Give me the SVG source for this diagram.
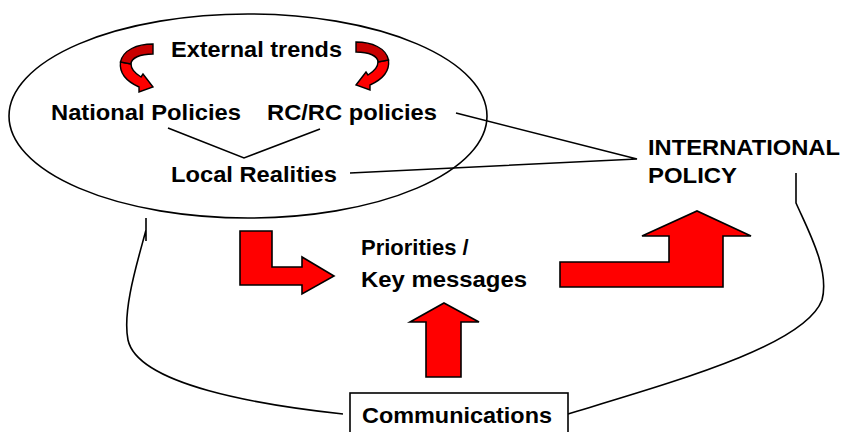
<svg xmlns="http://www.w3.org/2000/svg" width="842" height="432" viewBox="0 0 842 432">
<style>
text{font-family:"Liberation Sans",Arial,sans-serif;font-weight:bold;font-size:22px;fill:#000}
.ln{fill:none;stroke:#000;stroke-width:1.6}
.arr{fill:#ff0000;stroke:#000;stroke-width:1.6;stroke-linejoin:miter}
.dk{fill:#c80000;stroke:#000;stroke-width:1.4}
.br{fill:#ff0000;stroke:#000;stroke-width:1.4}
</style>
<defs>
<g id="curl">
<path class="br" d="M120.5,62 C119,74 128,82 139,87 L139,92 L153,87 L143,74 L141,77 C136,74 131,70 131,64 Z"/>
<path class="dk" d="M153,44 L153,54 C140,54 131,58 131,64 L120.5,62 C123,50 137,44 153,44 Z"/>
</g>
</defs>
<rect width="842" height="432" fill="#fff"/>
<g id="connectors">
<path class="ln" d="M168,128 L244,158 L320,129"/>
<path class="ln" d="M456,113 L637,159 L350,173"/>
<path class="ln" d="M146,218 L146,241 M146,230 C138,260 122,310 128,340 C138,385 260,405 343,414"/>
<path class="ln" d="M796,173 L796,203 C808,230 830,270 822,300 C805,345 680,380 568,414"/>
</g>
<g id="ellipse">
<ellipse cx="248" cy="116" rx="239" ry="102" fill="none" stroke="#000" stroke-width="1.6"/>
</g>
<g id="curl-left"><use href="#curl"/></g>
<g id="curl-right"><use href="#curl" transform="translate(509,-2) scale(-1,1)"/></g>
<g id="external-trends"><text x="171" y="57" font-size="23" textLength="171" lengthAdjust="spacingAndGlyphs">External trends</text></g>
<g id="national-policies"><text x="51" y="120" textLength="190" lengthAdjust="spacingAndGlyphs">National  Policies</text></g>
<g id="rcrc-policies"><text x="267" y="120" textLength="170" lengthAdjust="spacingAndGlyphs">RC/RC policies</text></g>
<g id="local-realities"><text x="171" y="182" textLength="166" lengthAdjust="spacingAndGlyphs">Local Realities</text></g>
<g id="international-policy">
<text x="648" y="155" font-size="23" textLength="192" lengthAdjust="spacingAndGlyphs">INTERNATIONAL</text>
<text x="648" y="183" font-size="23" textLength="89" lengthAdjust="spacingAndGlyphs">POLICY</text>
</g>
<g id="priorities">
<text x="361" y="255" font-size="20">Priorities /</text>
<text x="361" y="287" textLength="166" lengthAdjust="spacingAndGlyphs">Key messages</text>
</g>
<g id="arrow-l"><path class="arr" d="M240,231 H272 V267 H302 V257 L334,276 L302,294 V285 H240 Z"/></g>
<g id="arrow-up"><path class="arr" d="M444,303 L479,322 H461 V377 H426 V322 H410 Z"/></g>
<g id="arrow-big"><path class="arr" d="M560,287 V262 H669 V236 H642 L697,211 L751,236 H723 V287 Z"/></g>
<g id="communications">
<rect x="350" y="393" width="218" height="45" fill="#fff" stroke="#000" stroke-width="1.6"/>
<text x="362" y="423" textLength="190" lengthAdjust="spacingAndGlyphs">Communications</text>
</g>
</svg>
